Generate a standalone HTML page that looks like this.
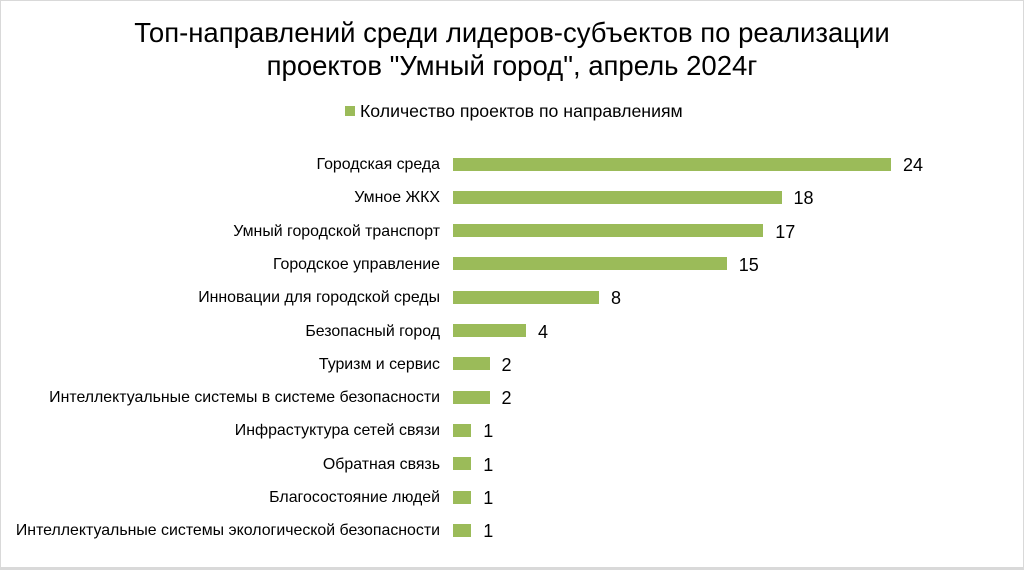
<!DOCTYPE html>
<html><head><meta charset="utf-8"><style>
body{margin:0;width:1024px;height:570px;background:#fff;overflow:hidden;font-family:"Liberation Sans",sans-serif;}
.frame{position:absolute;left:0;top:0;width:1022px;height:566px;border:1px solid #d9d9d9;border-bottom:3px solid #d9d9d9;}
.t{position:absolute;left:0;width:1024px;text-align:center;font-size:27.5px;color:#000;line-height:32px;}
.lab{position:absolute;right:584px;font-size:15.9px;color:#000;white-space:nowrap;line-height:18px;}
.bar{position:absolute;left:453px;height:13px;background:#9bbb59;}
.v{position:absolute;font-size:18px;color:#000;line-height:20px;}
</style></head><body>
<div class="frame"></div>
<div class="t" style="top:17px">Топ-направлений среди лидеров-субъектов  по реализации</div>
<div class="t" style="top:50px">проектов "Умный город", апрель 2024г</div>
<div style="position:absolute;left:345px;top:106px;width:10px;height:10px;background:#9bbb59"></div>
<div style="position:absolute;left:360px;top:101px;font-size:17.7px;line-height:20px">Количество проектов по направлениям</div>
<div id="c"></div>
<script>
var d=[["Городская среда",24],["Умное ЖКХ",18],["Умный городской транспорт",17],["Городское управление",15],["Инновации для городской среды",8],["Безопасный город",4],["Туризм и сервис",2],["Интеллектуальные системы в системе безопасности",2],["Инфрастуктура сетей связи",1],["Обратная связь ",1],["Благосостояние людей",1],["Интеллектуальные системы экологической безопасности",1]];
var h="";d.forEach(function(r,i){var y=164+i*33.3;var w=r[1]*18.25;
h+='<div class="lab" style="top:'+(y-8)+'px">'+r[0]+'</div><div class="bar" style="top:'+(y-6.5)+'px;width:'+w+'px"></div><div class="v" style="left:'+(453+w+12)+'px;top:'+(y-9)+'px">'+r[1]+'</div>';});
document.getElementById("c").innerHTML=h;
</script>
</body></html>
